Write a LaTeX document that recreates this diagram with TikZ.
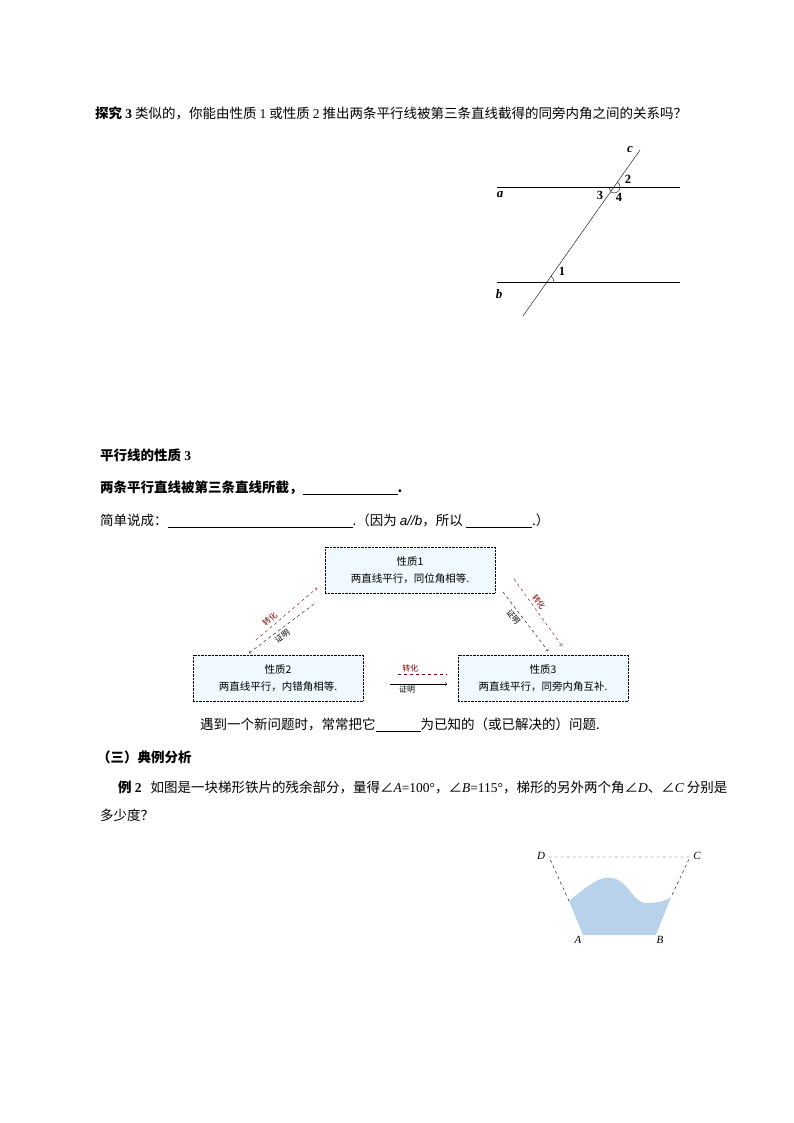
\documentclass[tikz,border=0pt]{standalone}
\usepackage{fontspec}
\setmainfont{Liberation Serif}
\newfontfamily\cjk{Noto Sans CJK SC}
\newfontfamily\ser{Liberation Serif}
\definecolor{plate}{RGB}{185,210,236}
\begin{document}
\begin{tikzpicture}[x=1pt,y=-1pt,
 txt/.style={anchor=west,inner sep=0,font=\cjk\fontsize{13.5}{16}\selectfont},
 lbl/.style={inner sep=0,font=\fontsize{12.5}{14}\selectfont\bfseries},
 box/.style={draw,densely dotted,fill=cyan!6!white,minimum width=170pt,minimum height=46pt,align=center,font=\cjk\fontsize{10.5}{17}\selectfont},
 alab/.style={font=\cjk\fontsize{8}{9}\selectfont,inner sep=0pt},
 conv/.style={dashed,draw=red!50!black,->},
 prf/.style={dashed,->}]
\useasboundingbox (0,0) rectangle (794,1123);
\node[txt] (t1) at (95,113) {\textbf{探究 {\ser 3}} 类似的，你能由性质 {\ser 1} 或性质 {\ser 2} 推出两条平行线被第三条直线截得的同旁内角之间的关系吗？};
% figure
\coordinate (a1) at (497,187); \coordinate (a2) at (680,187);
\coordinate (b1) at (497,282); \coordinate (b2) at (680,282);
\coordinate (c1) at (523,316); \coordinate (c2) at (640,150);
\draw (a1)--(a2); \draw (b1)--(b2); \draw (c1)--(c2);
\coordinate (P) at (614,187); \coordinate (Q) at (547,282);
\draw (P)+(6,0) arc (0:-54.8:6);
\draw (P)+(-5,0) arc (180:125.2:5);
\draw (P)+(6,0) arc (0:125.2:6);
\draw (Q)+(7,0) arc (0:-54.8:7);
\node[lbl,font=\fontsize{13}{14}\selectfont\bfseries\itshape] (la) at (500,195) {a};
\node[lbl,font=\fontsize{13}{14}\selectfont\bfseries\itshape] (lb) at (499,294) {b};
\node[lbl,font=\fontsize{13}{14}\selectfont\bfseries\itshape] (lc) at (630,150) {c};
\node[lbl] (n1) at (562,271) {1};
\node[lbl] (n2) at (628,179) {2};
\node[lbl] (n3) at (600,195) {3};
\node[lbl] (n4) at (619,197) {4};
% text
\node[txt] (h1) at (100,455) {\textbf{平行线的性质 {\ser 3}}};
\node[txt] (h2) at (100,488) {\textbf{两条平行直线被第三条直线所截，\underline{\hspace{95pt}}.}};
\node[txt] (h3) at (100,521) {简单说成：\underline{\hspace{185pt}}.（因为 {\fontspec{Liberation Sans}\itshape a//b}，所以 \underline{\hspace{66pt}}.）};
% boxes
\node[box] (B1) at (410,570) {性质1\\两直线平行，同位角相等.};
\node[box] (B2) at (278,678) {性质2\\两直线平行，内错角相等.};
\node[box] (B3) at (543,678) {性质3\\两直线平行，同旁内角互补.};
\coordinate (l1) at (256,640); \coordinate (l2) at (317,588);
\coordinate (l3) at (314,604); \coordinate (l4) at (249,653);
\draw[conv] (l1)--(l2) node[alab,pos=0.3,sloped,above=3pt,text=red!50!black] {转化};
\draw[prf] (l3)--(l4) node[alab,pos=0.55,sloped,below=3pt] {证明};
\coordinate (r1) at (514,579); \coordinate (r2) at (562,646);
\coordinate (r3) at (503,592); \coordinate (r4) at (548,651);
\draw[conv] (r1)--(r2) node[alab,pos=0.4,sloped,above=3pt,text=red!50!black] {转化};
\draw[prf] (r3)--(r4) node[alab,pos=0.35,sloped,below=3pt] {证明};
\coordinate (m1) at (398,674); \coordinate (m2) at (447,674);
\coordinate (m3) at (390,684); \coordinate (m4) at (447,684);
\draw[dashed,draw=red!50!black] (m1)--(m2) node[alab,pos=0.25,above=2pt,text=red!50!black] {转化};
\draw[->] (m3)--(m4) node[alab,pos=0.3,below=2pt] {证明};
\node[txt] (h4) at (200,725) {遇到一个新问题时，常常把它\underline{\hspace{45pt}}为已知的（或已解决的）问题.};
\node[txt] (h5) at (97,757) {\textbf{（三）典例分析}};
\node[txt] (h6) at (118,787) {\textbf{例 {\ser 2}}\hspace{6pt} 如图是一块梯形铁片的残余部分，量得∠{\ser\itshape A}{\ser =100°}，∠{\ser\itshape B}{\ser =115°}，梯形的另外两个角∠{\ser\itshape D}、∠{\ser\itshape C} 分别是};
\node[txt] (h7) at (100,815) {多少度？};
% trapezoid
\coordinate (D) at (549,857); \coordinate (C) at (690,857);
\coordinate (A) at (583,935); \coordinate (B) at (656,935);
\coordinate (L) at (569,901); \coordinate (R) at (671,897);
\fill[plate] (A)--(L) .. controls (585,888) and (600,875) .. (612,878) .. controls (630,881) and (633,906) .. (650,903) .. controls (660,902) and (666,901) .. (R) -- (B) -- cycle;
\draw[dashed] (L)--(D)--(C)--(R);
\node[inner sep=0,font=\itshape\fontsize{11}{12}\selectfont] (lD) at (541,856) {D};
\node[inner sep=0,font=\itshape\fontsize{11}{12}\selectfont] (lC) at (697,856) {C};
\node[inner sep=0,font=\itshape\fontsize{11}{12}\selectfont] (lA) at (578,940) {A};
\node[inner sep=0,font=\itshape\fontsize{11}{12}\selectfont] (lB) at (660,940) {B};
\end{tikzpicture}
\end{document}
